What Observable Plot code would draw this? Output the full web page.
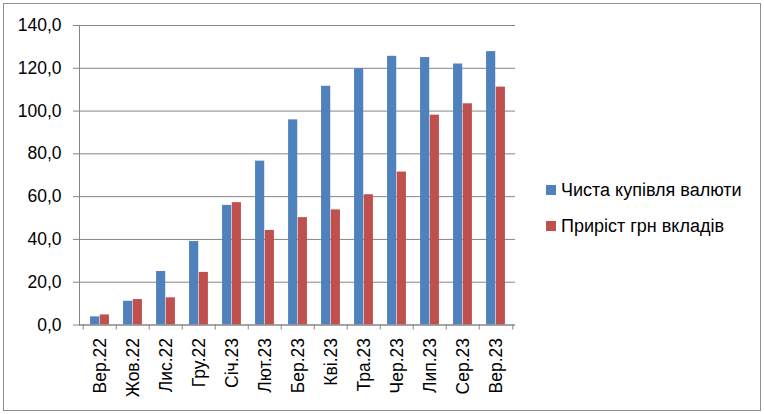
<!DOCTYPE html>
<html><head><meta charset="utf-8">
<script src="https://cdn.jsdelivr.net/npm/d3@7"></script>
<script src="https://cdn.jsdelivr.net/npm/@observablehq/plot@0.6"></script>
<style>
body{margin:0;background:#fff;font-family:"Liberation Sans",Arial,sans-serif;}
#wrap{position:relative;width:764px;height:414px;overflow:hidden}
#frame{position:absolute;left:3px;top:3px;width:758px;height:408px;border:1px solid #8e8e8e;box-sizing:border-box;pointer-events:none}
#legend{position:absolute;left:546px;top:172px;font-size:18px;color:#000}
.item{display:flex;align-items:center;height:36px;white-space:nowrap}
.sw{width:10px;height:10px;margin-right:5px}
</style></head><body>
<div id="wrap"><div id="chart"></div><div id="legend"></div><div id="frame"></div></div>
<script>
const months = ["Вер.22","Жов.22","Лис.22","Гру.22","Січ.23","Лют.23","Бер.23","Кві.23","Тра.23","Чер.23","Лип.23","Сер.23","Вер.23"];
const netFxPurchase = [3.8, 11.1, 25.0, 39.0, 55.9, 76.6, 95.9, 111.6, 119.8, 125.6, 125.0, 122.0, 127.8];
const uahDepositGrowth = [4.7, 11.9, 12.7, 24.6, 57.2, 44.2, 50.2, 53.8, 60.9, 71.5, 98.1, 103.4, 111.2];
const seriesNames = ["Чиста купівля валюти", "Приріст грн вкладів"];
const seriesColors = ["#4F81BD", "#C0504D"];
const yTicks = [0, 20, 40, 60, 80, 100, 120, 140];

const W = 764, H = 414, mL = 79, mR = 249, mT = 25, mB = 89.5;
const step = (W - mL - mR) / months.length;
const barW = 9.7;
const gray = "#868686";

const data = months.map((m, i) => ({month: m, fx: netFxPurchase[i], uah: uahDepositGrowth[i]}));
const fmt = d => d3.format(".1f")(d).replace(".", ",");

const chart = Plot.plot({
  width: W, height: H,
  marginLeft: mL, marginRight: mR, marginTop: mT, marginBottom: mB,
  style: {fontFamily: "'Liberation Sans', Arial, sans-serif", fontSize: "17px", color: "#000", background: "transparent"},
  x: {type: "band", domain: months, padding: 0, label: null},
  y: {domain: [0, 140], label: null},
  marks: [
    Plot.gridY(yTicks, {stroke: gray, strokeOpacity: 1, strokeWidth: 1}),
    Plot.axisY({ticks: yTicks, tickSize: 6, tickPadding: 12, tickFormat: fmt, stroke: gray, strokeOpacity: 1, fontSize: 17.5, fill: "#000", label: null}),
    Plot.barY(data, {x: "month", y: "fx", fill: seriesColors[0], insetLeft: step / 2 - barW, insetRight: step / 2}),
    Plot.barY(data, {x: "month", y: "uah", fill: seriesColors[1], insetLeft: step / 2, insetRight: step / 2 - barW}),
    Plot.frame({anchor: "left", stroke: gray}),
    Plot.ruleY([0], {stroke: gray}),
    Plot.axisX({tickSize: 5, tickFormat: () => "", dx: -step / 2, stroke: gray, strokeOpacity: 1, label: null}),
    Plot.axisX({ticks: [months[months.length - 1]], tickSize: 5, tickFormat: () => "", dx: step / 2, stroke: gray, strokeOpacity: 1, label: null}),
    Plot.axisX({tickSize: 0, tickPadding: 13, tickRotate: -90, fontSize: 17.5, fill: "#000", label: null})
  ]
});
document.getElementById("chart").appendChild(chart);

const legend = document.getElementById("legend");
seriesNames.forEach((name, i) => {
  const row = document.createElement("div");
  row.className = "item";
  const sw = document.createElement("span");
  sw.className = "sw";
  sw.style.background = seriesColors[i];
  const t = document.createElement("span");
  t.textContent = name;
  row.appendChild(sw); row.appendChild(t);
  legend.appendChild(row);
});
</script>
</body></html>
